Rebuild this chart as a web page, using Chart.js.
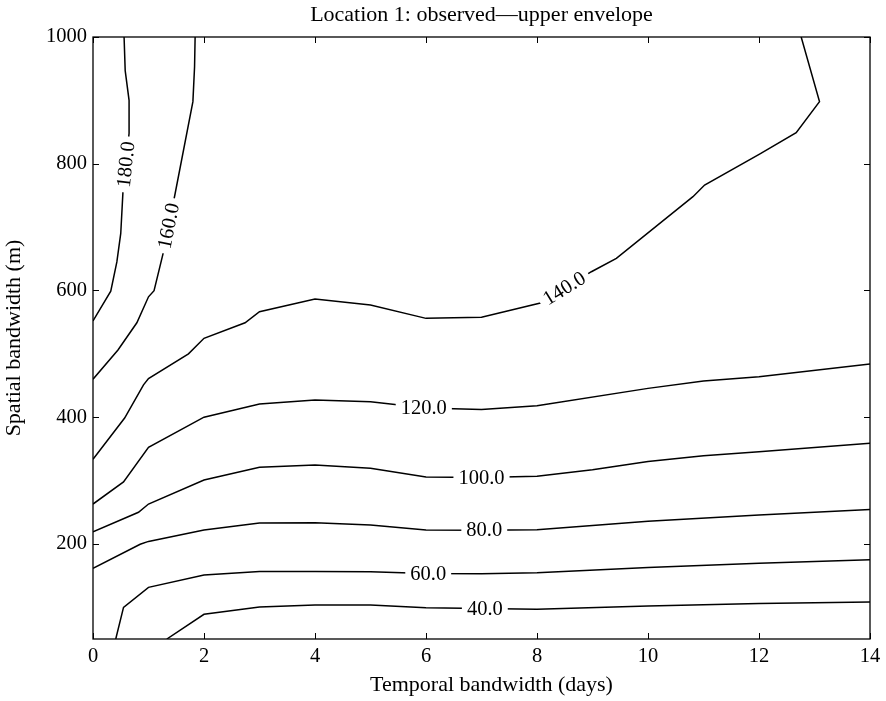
<!DOCTYPE html>
<html>
<head>
<meta charset="utf-8">
<script src="https://cdn.jsdelivr.net/npm/chart.js@4/dist/chart.umd.min.js"></script>
<style>
  html, body { margin: 0; padding: 0; background: #fff; }
  #c { display: block; }
</style>
</head>
<body>
<canvas id="c" width="886" height="701" style="width:886px;height:701px"></canvas>
<script>
// ---- Data ----
const chartTitle = 'Location 1: observed\u2014upper envelope';
const xTitle = 'Temporal bandwidth (days)';
const yTitle = 'Spatial bandwidth (m)';
const xTicks = [0, 2, 4, 6, 8, 10, 12, 14];
const yTicks = [200, 400, 600, 800, 1000];

const levels = [40, 60, 80, 100, 120, 140, 160, 180];

const c40x  = [1.33, 2.0, 3.0, 4.0, 5.0, 6.0, 7.0, 8.0, 10.0, 12.0, 14.0];
const c40y  = [50, 89, 100.5, 103.5, 103.8, 99.5, 98, 97, 102, 106, 108.5];

const c60x  = [0.41, 0.55, 1.0, 2.0, 3.0, 4.0, 5.0, 6.0, 7.0, 8.0, 10.0, 12.0, 14.0];
const c60y  = [50, 100, 131.5, 151, 156.5, 156.5, 156, 153.5, 153, 154.5, 163, 169.5, 175];

const c80x  = [0, 0.85, 1.0, 2.0, 3.0, 4.0, 5.0, 6.0, 7.0, 8.0, 10.0, 12.0, 14.0];
const c80y  = [161.5, 199.5, 204, 222, 233, 233.5, 230, 222, 221.5, 222.5, 236, 245.5, 254.5];

const c100x = [0, 0.82, 1.0, 2.0, 3.0, 4.0, 5.0, 6.0, 7.0, 8.0, 9.0, 10.0, 11.0, 12.0, 14.0];
const c100y = [219.3, 250, 263, 301, 321, 324.5, 319.5, 305.5, 305, 307, 317, 330, 339, 345.5, 359];

const c120x = [0, 0.55, 1.0, 2.0, 3.0, 4.0, 5.0, 6.0, 7.0, 8.0, 10.0, 11.0, 12.0, 14.0];
const c120y = [263, 298, 352.5, 400, 421, 427, 424.5, 414.5, 412, 418, 445.5, 457, 464, 484];

const c140x = [0, 0.57, 0.91, 1.0, 1.72, 2.0, 2.74, 3.0, 4.0, 5.0, 6.0, 7.0, 8.08, 8.98, 9.43, 10.81, 11.02, 12.01, 12.67, 13.09, 12.76];
const c140y = [333.6, 398.7, 451, 461, 500, 524.5, 549, 566.5, 586.5, 577, 556, 557.7, 580.7, 629.6, 650.7, 748, 766.4, 815.3, 849, 898, 1000];

const c160x = [0, 0.45, 0.79, 1.0, 1.1, 1.27, 1.48, 1.8, 1.83, 1.84];
const c160y = [460, 506, 549, 590, 599.6, 661, 753, 898, 953, 1000];

const c180x = [0, 0.32, 0.43, 0.5, 0.54, 0.65, 0.65, 0.58, 0.56];
const c180y = [552, 599, 645, 690, 756, 848, 900, 947, 1000];

// inline contour label positions (data coords)
const labelLevels = [40, 60, 80, 100, 120, 140, 160, 180];
const labelX = [7.06, 6.04, 7.05, 7.0, 5.96, 8.49, 1.36, 0.59];
const labelY = [97.5, 153.5, 222, 305.3, 414.8, 603.5, 702, 799];

// ---- Build datasets ----
const lineXs = [c40x, c60x, c80x, c100x, c120x, c140x, c160x, c180x];
const lineYs = [c40y, c60y, c80y, c100y, c120y, c140y, c160y, c180y];

const FONT = "'Liberation Serif', 'Times New Roman', serif";

const datasets = levels.map((lv, i) => ({
  label: lv.toFixed(1),
  data: lineXs[i].map((x, j) => ({ x: x, y: lineYs[i][j] })),
  borderColor: '#000',
  borderWidth: 1.5,
  pointRadius: 0,
  tension: 0,
  fill: false,
  showLine: true
}));

function pointAlong(pts, cum, s) {
  s = Math.max(0, Math.min(cum[cum.length - 1], s));
  for (let j = 0; j < pts.length - 1; j++) {
    if (s <= cum[j + 1]) {
      const seg = cum[j + 1] - cum[j] || 1;
      const t = (s - cum[j]) / seg;
      return [pts[j][0] + t * (pts[j + 1][0] - pts[j][0]), pts[j][1] + t * (pts[j + 1][1] - pts[j][1])];
    }
  }
  return pts[pts.length - 1];
}

const contourLabelPlugin = {
  id: 'contourLabels',
  afterDatasetsDraw(chart) {
    const ctx = chart.ctx;
    const xs = chart.scales.x, ys = chart.scales.y;
    ctx.save();
    ctx.font = '20.5px ' + FONT;
    labelLevels.forEach((lv, k) => {
      const di = levels.indexOf(lv);
      const px = xs.getPixelForValue(labelX[k]);
      const py = ys.getPixelForValue(labelY[k]);
      const txt = lv.toFixed(1);
      const w = ctx.measureText(txt).width;
      const pts = lineXs[di].map((x, j) => [xs.getPixelForValue(x), ys.getPixelForValue(lineYs[di][j])]);
      const cum = [0];
      for (let j = 1; j < pts.length; j++) cum.push(cum[j - 1] + Math.hypot(pts[j][0] - pts[j - 1][0], pts[j][1] - pts[j - 1][1]));
      let best = Infinity, s0 = 0;
      for (let j = 0; j < pts.length - 1; j++) {
        const [x1, y1] = pts[j], [x2, y2] = pts[j + 1];
        const dx = x2 - x1, dy = y2 - y1;
        const L2 = dx * dx + dy * dy || 1;
        let t = ((px - x1) * dx + (py - y1) * dy) / L2;
        t = Math.max(0, Math.min(1, t));
        const d = (x1 + t * dx - px) ** 2 + (y1 + t * dy - py) ** 2;
        if (d < best) { best = d; s0 = cum[j] + t * Math.sqrt(L2); }
      }
      const a = pointAlong(pts, cum, s0 - w / 2), b = pointAlong(pts, cum, s0 + w / 2);
      let ang = Math.atan2(b[1] - a[1], b[0] - a[0]);
      if (ang > Math.PI / 2) ang -= Math.PI;
      if (ang < -Math.PI / 2) ang += Math.PI;
      if (Math.abs(ang) < 0.1) ang = 0;
      ctx.save();
      ctx.translate(px, py);
      ctx.rotate(ang);
      ctx.fillStyle = '#fff';
      ctx.fillRect(-w / 2 - 5, -9, w + 10, 18);
      ctx.fillStyle = '#000';
      ctx.textAlign = 'center';
      ctx.textBaseline = 'middle';
      ctx.fillText(txt, 0, 1);
      ctx.restore();
    });
    ctx.restore();
  }
};

const framePlugin = {
  id: 'frame',
  afterDatasetsDraw(chart) {
    const { ctx, chartArea: a } = chart;
    const xs = chart.scales.x, ys = chart.scales.y;
    const tl = 6;
    ctx.save();
    ctx.strokeStyle = '#000';
    ctx.lineWidth = 1.3;
    ctx.strokeRect(a.left, a.top, a.right - a.left, a.bottom - a.top);
    ctx.lineWidth = 1;
    ctx.beginPath();
    xTicks.forEach(v => {
      const p = Math.round(xs.getPixelForValue(v)) + 0.5;
      ctx.moveTo(p, a.bottom); ctx.lineTo(p, a.bottom - tl);
      ctx.moveTo(p, a.top); ctx.lineTo(p, a.top + tl);
    });
    yTicks.forEach(v => {
      const p = Math.round(ys.getPixelForValue(v)) + 0.5;
      ctx.moveTo(a.left, p); ctx.lineTo(a.left + tl, p);
      ctx.moveTo(a.right, p); ctx.lineTo(a.right - tl, p);
    });
    ctx.stroke();
    ctx.restore();
  }
};

const titlesPlugin = {
  id: 'titles',
  afterDraw(chart) {
    const { ctx, chartArea: a } = chart;
    ctx.save();
    ctx.fillStyle = '#000';
    ctx.font = '22px ' + FONT;
    ctx.textAlign = 'center';
    ctx.textBaseline = 'alphabetic';
    const cx = (a.left + a.right) / 2;
    ctx.fillText(chartTitle, cx, 21);
    ctx.fillText(xTitle, cx + 10, a.bottom + 52);
    ctx.save();
    ctx.translate(20, (a.top + a.bottom) / 2);
    ctx.rotate(-Math.PI / 2);
    ctx.fillText(yTitle, 0, 0);
    ctx.restore();
    ctx.restore();
  }
};

new Chart(document.getElementById('c'), {
  type: 'line',
  data: { datasets: datasets },
  options: {
    responsive: false,
    animation: false,
    events: [],
    layout: { padding: { left: 0, right: 16, top: 37, bottom: 0 } },
    plugins: {
      legend: { display: false },
      tooltip: { enabled: false },
      title: { display: false }
    },
    scales: {
      x: {
        type: 'linear',
        min: 0, max: 14,
        afterBuildTicks(s) { s.ticks = xTicks.map(v => ({ value: v })); },
        ticks: { color: '#000', font: { family: FONT, size: 20.5 }, padding: 5, maxRotation: 0, callback: v => String(v) },
        grid: { display: false, drawTicks: false },
        border: { display: false },
        afterFit(s) { s.height = 62; }
      },
      y: {
        type: 'linear',
        min: 50, max: 1000,
        afterBuildTicks(s) { s.ticks = yTicks.map(v => ({ value: v })); },
        ticks: { color: '#000', font: { family: FONT, size: 20.5 }, padding: 6, callback: v => String(v) },
        grid: { display: false, drawTicks: false },
        border: { display: false },
        afterFit(s) { s.width = 93; }
      }
    }
  },
  plugins: [contourLabelPlugin, framePlugin, titlesPlugin]
});
</script>
</body>
</html>
